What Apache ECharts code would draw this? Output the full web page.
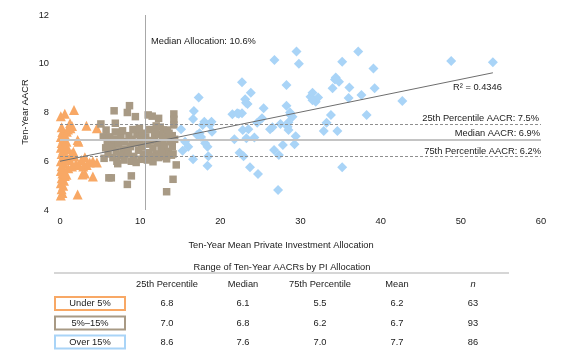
<!DOCTYPE html>
<html><head><meta charset="utf-8">
<script src="https://cdn.jsdelivr.net/npm/echarts@6/dist/echarts.min.js"></script>
<style>html,body{margin:0;padding:0;background:#fff}#c{width:562px;height:355px}</style>
</head><body><div id="c"></div>
<script>
// ---- data ----
const under5 = [
[0.1,4.6],[0.3,4.7],[0.2,4.85],[0.4,5.0],[0.1,5.1],[0.5,5.2],[0.2,5.3],[0.6,5.4],[0.3,5.5],[0.1,5.6],
[0.4,5.7],[0.2,5.8],[0.5,5.9],[0.1,6.0],[0.3,6.1],[0.6,6.2],[0.2,6.3],[0.4,6.45],[0.1,6.55],[0.5,6.65],
[0.2,6.75],[0.4,6.9],[0.1,7.0],[0.6,7.1],[0.3,7.2],[0.2,7.4],[0.1,7.85],[0.6,7.95],[0.8,5.45],[0.9,6.1],
[0.8,6.8],[1.0,7.3],
[1.75,8.1],[1.25,7.56],[1.5,7.45],[3.3,7.46],[4.6,7.35],[0.85,7.21],[2.2,6.87],[2.3,6.8],[0.75,6.56],
[1.67,6.39],[1.25,6.05],[2.7,6.05],[3.33,5.85],[2.3,5.85],[1.04,5.71],[4.6,5.95],[4.1,6.0],[2.8,5.46],
[4.1,5.37],[2.2,4.64],[1.5,5.78],[3.1,6.16],[1.8,6.2],[1.0,6.5],[3.7,5.95],[2.9,5.78],[3.1,5.5],[1.3,7.35],
[0.6,5.5],[1.4,6.3],[2.0,5.9]
];
const mid5to15 = [
[5.1,7.53],[6.75,8.07],[8.4,8.0],[8.67,8.28],[9.4,7.83],[6.9,7.56],[5.75,7.28],[11.0,7.9],[11.5,7.85],[12.3,7.76],
[14.2,7.94],[14.2,7.72],[14.2,7.49],[12.0,7.45],[12.5,7.4],[12.9,7.28],[13.4,7.28],
[5.5,6.12],[7.2,5.9],[6.1,5.32],[6.4,5.32],[8.9,5.4],[8.4,5.05],[10.1,6.08],[11.6,5.98],[13.0,6.19],[13.3,6.1],
[14.5,5.85],[14.1,5.26],[13.3,4.75],[14.1,6.3],[14.0,7.05],
[5.4,7.0],[5.9,6.8],[6.2,7.0],[6.5,6.6],[6.8,6.9],[7.0,6.4],[7.3,6.7],[7.6,7.0],[7.9,6.5],[8.1,6.8],
[8.3,6.3],[8.6,7.05],[8.8,6.6],[9.0,6.9],[9.2,6.2],[9.4,6.75],[9.6,7.1],[9.8,6.45],[10.0,6.9],[10.2,6.6],
[10.4,6.3],[10.7,7.0],[10.9,6.7],[11.1,6.35],[11.3,6.85],[11.6,6.55],[11.8,7.05],[12.0,6.3],[12.2,6.75],[12.4,7.1],
[12.6,6.5],[12.8,6.9],[13.0,6.6],[13.2,7.0],[13.5,6.4],[13.7,6.8],[14.0,6.6],[14.3,6.9],
[6.0,6.3],[6.6,6.15],[7.5,6.25],[8.0,6.05],[8.9,6.0],[9.5,5.95],[10.6,6.2],[11.5,6.2],[12.3,6.15],
[5.7,6.55],[6.9,7.2],[7.8,7.25],[9.1,7.3],[10.3,7.15],[11.2,7.3],[11.9,7.2],[13.6,7.15],
[7.1,6.0],[8.5,6.45],[10.9,6.05],[12.7,6.3],[13.9,6.25],[9.9,7.35]
];
const over15 = [
[15.1,7.31],[15.6,6.8],[16.0,6.6],[15.3,6.43],[16.7,8.06],[16.6,7.73],[16.6,6.08],[17.3,8.62],[17.1,7.08],[17.4,7.15],
[18.0,7.62],[18.9,7.62],[18.96,7.21],[18.1,6.74],[18.4,6.6],[18.5,6.21],[18.4,5.82],[17.6,7.0],
[21.5,7.93],[22.1,7.97],[22.7,7.97],[22.7,9.24],[23.8,8.81],[23.1,8.54],[23.4,8.35],[22.8,7.28],[23.5,7.31],[24.6,7.58],
[25.2,7.76],[25.4,8.17],[21.75,6.9],[23.25,6.94],[24.25,6.97],[22.4,6.35],[22.9,6.21],[23.7,5.75],[24.7,5.48],[26.2,7.31],
[26.5,7.4],[26.75,10.15],[26.7,6.46],[27.3,6.26],[27.2,4.82],
[27.5,7.53],[28.25,9.13],[28.25,8.28],[28.75,7.9],[28.5,7.6],[28.5,7.28],[28.4,7.42],[29.5,10.5],[29.8,10.0],[29.4,7.03],
[29.25,6.7],[27.8,6.67],
[31.25,8.65],[31.5,8.81],[31.9,8.44],[32.2,8.62],[34.0,9.0],[34.4,9.44],[34.8,9.26],[35.2,10.08],[36.1,9.03],[36.0,8.6],
[37.2,10.5],[37.6,8.72],[39.1,9.81],[39.25,9.0],[33.8,7.9],[33.25,7.58],[32.9,7.24],[34.6,7.24],[35.2,5.75],[38.25,7.9],
[42.7,8.47],[48.8,10.11],[54.0,10.06],
[17.8,7.49],[29.0,7.83],[22.3,7.95],[28.7,8.0],[31.5,8.5],[34.3,9.35],[18.7,7.5],[23.2,8.4]
];
const trendX = [0, 54];
const trendY = [6.0, 9.63];
const rSquared = '0.4346';
const medianAllocation = 10.6;
const pct25AACR = 7.5, medianAACR = 6.9, pct75AACR = 6.2;
const xMin = 0, xMax = 60, xStep = 10;
const yMin = 4, yMax = 12, yStep = 2;

const groupNames = ['Under 5%', '5%\u201315%', 'Over 15%'];
const tableHeaders = ['25th Percentile', 'Median', '75th Percentile', 'Mean', 'n'];
const col25th = ['6.8', '7.0', '8.6'];
const colMedian = ['6.1', '6.8', '7.6'];
const col75th = ['5.5', '6.2', '7.0'];
const colMean = ['6.2', '6.7', '7.7'];
const colN = ['63', '93', '86'];

// ---- styles ----
const FONT = '"Liberation Sans", Arial, sans-serif';
const FS = 9.3;
const TXT = '#1a1a1a';
const colors = ['#F8A865', '#A89A85', '#A9D4F7'];

const chart = echarts.init(document.getElementById('c'), null, {renderer: 'canvas'});

const option = {
  animation: false,
  textStyle: {fontFamily: FONT},
  grid: {left: 60, right: 21, top: 15, bottom: 145},
  xAxis: {
    type: 'value', min: xMin, max: xMax, interval: xStep,
    axisLine: {show: false}, axisTick: {show: false}, splitLine: {show: false},
    axisLabel: {color: TXT, fontSize: FS, fontFamily: FONT, margin: 7}
  },
  yAxis: {
    type: 'value', min: yMin, max: yMax, interval: yStep,
    axisLine: {show: false}, axisTick: {show: false}, splitLine: {show: false},
    axisLabel: {color: TXT, fontSize: FS, fontFamily: FONT, margin: 11}
  },
  series: [
    {
      type: 'line', data: [], z: 1, silent: true,
      markLine: {
        symbol: 'none', silent: true, animation: false,
        label: {position: 'insideEndTop', color: TXT, fontSize: FS, fontFamily: FONT, distance: 1},
        data: [
          {xAxis: medianAllocation, lineStyle: {color: '#a8a8a8', width: 1, type: 'solid'}, label: {show: false}},
          {yAxis: pct25AACR, lineStyle: {color: '#8f8f8f', width: 1, type: [3, 2]},
            label: {formatter: '25th Percentile AACR: ' + pct25AACR.toFixed(1) + '%', distance: 2}},
          {yAxis: medianAACR, lineStyle: {color: '#c4c4c4', width: 2, type: 'solid'},
            label: {formatter: 'Median AACR: ' + medianAACR.toFixed(1) + '%', distance: 1}},
          {yAxis: pct75AACR, lineStyle: {color: '#8f8f8f', width: 1, type: [3, 2]},
            label: {formatter: '75th Percentile AACR: ' + pct75AACR.toFixed(1) + '%', distance: 0}}
        ]
      }
    },
    {type: 'scatter', name: groupNames[0], data: under5, symbol: 'triangle', symbolSize: 10, z: 2,
      itemStyle: {color: colors[0], opacity: 1}},
    {type: 'scatter', name: groupNames[1], data: mid5to15, symbol: 'rect', symbolSize: 7.5, z: 2,
      itemStyle: {color: colors[1], opacity: 1}},
    {type: 'scatter', name: groupNames[2], data: over15, symbol: 'diamond', symbolSize: 10, z: 2,
      itemStyle: {color: colors[2], opacity: 1}},
    {type: 'line', data: trendX.map((x, i) => [x, trendY[i]]), symbol: 'none', z: 3, silent: true,
      lineStyle: {color: '#6e6e6e', width: 1}}
  ]
};
chart.setOption(option);

// ---- annotations and table ----
const font = FS + 'px ' + FONT;
const g = [];
const medPx = chart.convertToPixel({gridIndex: 0}, [medianAllocation, yMax]);
g.push({type: 'text', left: medPx[0] + 6, top: 37,
  style: {text: 'Median Allocation: ' + medianAllocation.toFixed(1) + '%', fill: TXT, font: font}});
g.push({type: 'text', left: 453, top: 83,
  style: {text: 'R\u00b2 = ' + rSquared, fill: TXT, font: font}});
// axis titles
g.push({type: 'text', x: 281, y: 245,
  style: {text: 'Ten-Year Mean Private Investment Allocation', fill: TXT, font: font, align: 'center', verticalAlign: 'middle'}});
g.push({type: 'text', x: 25, y: 112, rotation: Math.PI / 2,
  style: {text: 'Ten-Year AACR', fill: TXT, font: font, align: 'center', verticalAlign: 'middle'}});
// table
g.push({type: 'text', x: 282, y: 267,
  style: {text: 'Range of Ten-Year AACRs by PI Allocation', fill: TXT, font: font, align: 'center', verticalAlign: 'middle'}});
g.push({type: 'line', shape: {x1: 54, y1: 273, x2: 509, y2: 273}, style: {stroke: '#c8c8c8', lineWidth: 1.5}});
const colX = [167, 243, 320, 397, 473];
tableHeaders.forEach((h, i) => {
  g.push({type: 'text', x: colX[i], y: 284,
    style: {text: h, fill: TXT, font: (i === 4 ? 'italic ' : '') + font, align: 'center', verticalAlign: 'middle'}});
});
const rowY = [303.5, 323, 342];
const cols = [col25th, colMedian, col75th, colMean, colN];
groupNames.forEach((name, r) => {
  g.push({type: 'rect', shape: {x: 55, y: rowY[r] - 6.5, width: 70, height: 13},
    style: {fill: '#fff', stroke: colors[r], lineWidth: 2}});
  g.push({type: 'text', x: 90, y: rowY[r],
    style: {text: name, fill: TXT, font: font, align: 'center', verticalAlign: 'middle'}});
  cols.forEach((c, i) => {
    g.push({type: 'text', x: colX[i], y: rowY[r],
      style: {text: c[r], fill: TXT, font: font, align: 'center', verticalAlign: 'middle'}});
  });
});
chart.setOption({graphic: {elements: g}});
</script>
</body></html>
